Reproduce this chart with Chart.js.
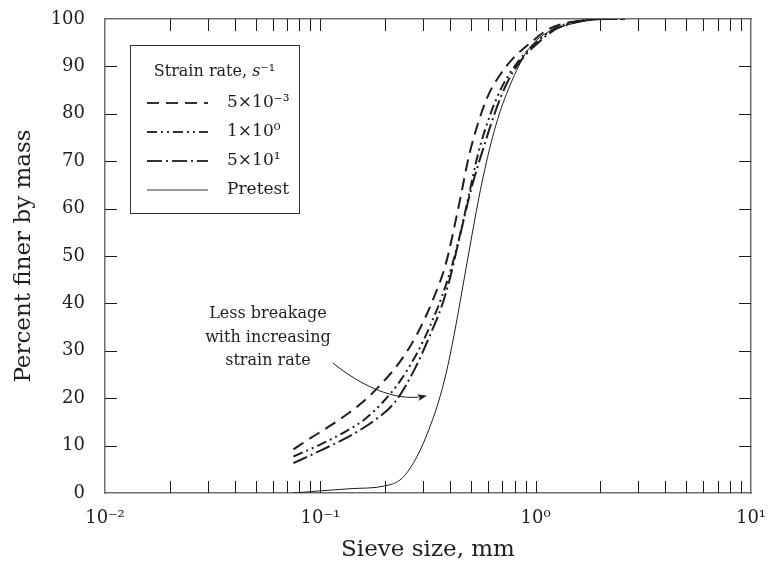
<!DOCTYPE html>
<html>
<head>
<meta charset="utf-8">
<script src="https://cdn.jsdelivr.net/npm/chart.js@4.4.1/dist/chart.umd.min.js"></script>
<style>
  html, body { margin: 0; padding: 0; background: #fff; }
</style>
</head>
<body>
<canvas id="sieveChart" width="768" height="565"></canvas>
<script>
// sieve size (mm) vs percent finer
const sizesSlow = [0.075, 0.0867, 0.1085, 0.133, 0.1612, 0.1954, 0.2344, 0.2812, 0.3336, 0.3834, 0.4359, 0.4955, 0.5943, 0.683, 0.7851, 0.9412, 1.166, 1.523, 1.99, 2.6];
const finerSlow = [9.2, 11.1, 13.9, 16.6, 19.6, 23.4, 27.7, 33.5, 40.8, 48.5, 59.8, 72.0, 83.3, 88.2, 91.7, 94.9, 98.0, 99.5, 100, 100];

const sizesMid = [0.075, 0.0975, 0.1302, 0.1612, 0.1954, 0.2344, 0.2812, 0.3231, 0.3673, 0.4088, 0.4452, 0.4851, 0.5398, 0.6138, 0.7051, 0.8193, 0.9931, 1.23, 1.607, 2.099, 2.6];
const finerMid = [7.7, 10.0, 12.9, 15.6, 19.2, 23.6, 29.5, 35.2, 41.5, 48.0, 54.5, 62.0, 71.5, 79.7, 86.1, 90.7, 94.8, 98.0, 99.6, 100, 100];

const sizesFast = [0.075, 0.1018, 0.1403, 0.1795, 0.2223, 0.2753, 0.3231, 0.3673, 0.4, 0.4359, 0.4698, 0.5064, 0.5694, 0.6474, 0.736, 0.846, 1.0146, 1.257, 1.642, 2.099, 2.6];
const finerFast = [6.3, 9.1, 12.3, 15.4, 19.2, 26.3, 33.3, 39.6, 45.3, 52.5, 58.8, 64.8, 72.5, 80.3, 86.5, 91.0, 94.8, 98.0, 99.6, 100, 100];

const sizesPretest = [0.075, 0.0997, 0.1373, 0.1996, 0.2395, 0.2812, 0.3231, 0.3595, 0.3916, 0.4266, 0.4648, 0.5064, 0.5515, 0.6138, 0.683, 0.7851, 0.9117, 1.0818, 1.398, 1.846, 2.336];
const finerPretest = [0, 0.45, 0.9, 1.5, 3.1, 7.7, 14.0, 20.3, 27.0, 35.5, 45.0, 54.5, 63.5, 73.0, 80.4, 87.5, 93.2, 96.6, 98.7, 99.8, 100];

const seriesLabels = ["5×10⁻³", "1×10⁰", "5×10¹", "Pretest"];
const decadeLabels = { "-2": "10⁻²", "-1": "10⁻¹", "0": "10⁰", "1": "10¹" };
const yTicks = [0, 10, 20, 30, 40, 50, 60, 70, 80, 90, 100];

// annotation anchor (data units) and arrow path
const noteLines = ["Less breakage", "with increasing", "strain rate"];
const noteAt = { x: 0.0571, y: 36.9 };
const arrowPath = [
  { x: 0.1145, y: 27.4 },
  { x: 0.1528, y: 22.8 },
  { x: 0.2223, y: 19.2 },
  { x: 0.3128, y: 20.5 }
];

const ink = "#1e1e1e";
const serif = "'DejaVu Serif', serif";
const dashes = [[12, 7], [10, 4, 2, 4, 2, 4], [15, 4, 2, 4], []];
const widths = [2, 2, 2, 1];

function pts(xs, ys) {
  return xs.map((x, i) => ({ x: x, y: ys[i] }));
}

function logTicks() {
  const out = [];
  for (let e = -2; e < 1; e++) {
    for (let m = 1; m < 10; m++) out.push(Number((m * Math.pow(10, e)).toPrecision(3)));
  }
  out.push(10);
  return out;
}

// keep label overhang from pushing the plot area around
function noPad(s) {
  s.paddingLeft = 0;
  s.paddingRight = 0;
  s.paddingTop = 0;
  s.paddingBottom = 0;
}

const innerTicks = {
  id: "innerTicks",
  afterDraw(chart) {
    const ctx = chart.ctx;
    const a = chart.chartArea;
    const len = 12;
    ctx.save();
    ctx.strokeStyle = ink;
    ctx.lineWidth = 1;
    ctx.beginPath();
    logTicks().forEach(v => {
      const px = Math.round(chart.scales.x.getPixelForValue(v)) + 0.5;
      if (px <= a.left + 1 || px >= a.right - 1) return;
      ctx.moveTo(px, a.bottom);
      ctx.lineTo(px, a.bottom - len);
      ctx.moveTo(px, a.top);
      ctx.lineTo(px, a.top + len);
    });
    yTicks.forEach(v => {
      const py = Math.round(chart.scales.y.getPixelForValue(v)) + 0.5;
      if (py <= a.top + 1 || py >= a.bottom - 1) return;
      ctx.moveTo(a.left, py);
      ctx.lineTo(a.left + len, py);
      ctx.moveTo(a.right, py);
      ctx.lineTo(a.right - len, py);
    });
    ctx.stroke();
    ctx.restore();
  }
};

const legendBox = {
  id: "legendBox",
  afterDraw(chart) {
    const ctx = chart.ctx;
    const a = chart.chartArea;
    const bx = a.left + 25, by = a.top + 26, bw = 169, bh = 168;
    ctx.save();
    ctx.fillStyle = "#fff";
    ctx.fillRect(bx, by, bw, bh);
    ctx.strokeStyle = "#333";
    ctx.lineWidth = 1;
    ctx.strokeRect(bx + 0.5, by + 0.5, bw, bh);

    ctx.fillStyle = ink;
    ctx.textBaseline = "middle";
    // title: "Strain rate, s⁻¹" with italic s
    const t1 = "Strain rate, ";
    ctx.font = "16px " + serif;
    const w1 = ctx.measureText(t1).width;
    ctx.font = "italic 16px " + serif;
    const w2 = ctx.measureText("s").width;
    ctx.font = "16px " + serif;
    const w3 = ctx.measureText("⁻¹").width;
    let tx = bx + bw / 2 - (w1 + w2 + w3) / 2;
    const ty = by + 27;
    ctx.fillText(t1, tx, ty);
    ctx.font = "italic 16px " + serif;
    ctx.fillText("s", tx + w1, ty);
    ctx.font = "16px " + serif;
    ctx.fillText("⁻¹", tx + w1 + w2, ty);

    seriesLabels.forEach((lab, i) => {
      const ly = by + 58 + i * 29;
      ctx.beginPath();
      ctx.setLineDash(dashes[i]);
      ctx.lineWidth = widths[i];
      ctx.moveTo(bx + 17, ly);
      ctx.lineTo(bx + 78, ly);
      ctx.stroke();
      ctx.setLineDash([]);
      ctx.font = "17px " + serif;
      ctx.fillText(lab, bx + 97, ly);
    });
    ctx.restore();
  }
};

const note = {
  id: "note",
  afterDraw(chart) {
    const ctx = chart.ctx;
    const sx = chart.scales.x, sy = chart.scales.y;
    ctx.save();
    ctx.fillStyle = ink;
    ctx.font = "16px " + serif;
    ctx.textAlign = "center";
    ctx.textBaseline = "alphabetic";
    const nx = sx.getPixelForValue(noteAt.x);
    const ny = sy.getPixelForValue(noteAt.y);
    noteLines.forEach((s, i) => ctx.fillText(s, nx, ny + i * 23.5));

    const p = arrowPath.map(q => ({ x: sx.getPixelForValue(q.x), y: sy.getPixelForValue(q.y) }));
    ctx.strokeStyle = ink;
    ctx.lineWidth = 1;
    ctx.beginPath();
    ctx.moveTo(p[0].x, p[0].y);
    ctx.bezierCurveTo(p[1].x, p[1].y, p[2].x, p[2].y, p[3].x - 4, p[3].y + 0.5);
    ctx.stroke();
    // arrow head
    const ang = Math.atan2(p[3].y - p[2].y, p[3].x - p[2].x);
    ctx.beginPath();
    ctx.moveTo(p[3].x, p[3].y);
    ctx.lineTo(p[3].x - 10 * Math.cos(ang - 0.35), p[3].y - 10 * Math.sin(ang - 0.35));
    ctx.lineTo(p[3].x - 7 * Math.cos(ang), p[3].y - 7 * Math.sin(ang));
    ctx.lineTo(p[3].x - 10 * Math.cos(ang + 0.35), p[3].y - 10 * Math.sin(ang + 0.35));
    ctx.closePath();
    ctx.fill();
    ctx.restore();
  }
};

const seriesX = [sizesSlow, sizesMid, sizesFast, sizesPretest];
const seriesY = [finerSlow, finerMid, finerFast, finerPretest];

const datasets = seriesLabels.map((lab, i) => ({
  label: lab,
  data: pts(seriesX[i], seriesY[i]),
  borderColor: ink,
  borderWidth: widths[i],
  borderDash: dashes[i],
  pointRadius: 0,
  fill: false,
  cubicInterpolationMode: "monotone"
}));

new Chart(document.getElementById("sieveChart"), {
  type: "line",
  data: { datasets: datasets },
  options: {
    responsive: false,
    devicePixelRatio: 1,
    animation: false,
    layout: { padding: 0 },
    plugins: { legend: { display: false }, tooltip: { enabled: false } },
    scales: {
      x: {
        type: "logarithmic",
        position: "bottom",
        min: 0.01,
        max: 10,
        afterBuildTicks: s => { s.ticks = logTicks().map(v => ({ value: v })); },
        afterFit: s => { s.height = 72; noPad(s); },
        grid: { display: false },
        border: { display: true, color: "#6e6e6e", width: 1.5 },
        ticks: {
          autoSkip: false,
          maxRotation: 0,
          padding: 7,
          color: ink,
          font: { family: serif, size: 18 },
          callback: v => {
            const e = Math.log10(v);
            return Math.abs(e - Math.round(e)) < 1e-6 ? decadeLabels[String(Math.round(e))] : "";
          }
        },
        title: {
          display: true,
          text: "Sieve size, mm",
          color: ink,
          font: { family: serif, size: 23 },
          padding: { top: 0, bottom: 1 }
        }
      },
      xTop: {
        type: "logarithmic",
        position: "top",
        min: 0.01,
        max: 10,
        afterFit: s => { s.height = 19; noPad(s); },
        grid: { display: false },
        border: { display: true, color: "#6e6e6e", width: 1.5 },
        ticks: { display: false }
      },
      y: {
        min: 0,
        max: 100,
        afterBuildTicks: s => { s.ticks = yTicks.map(v => ({ value: v })); },
        afterFit: s => { s.width = 105; noPad(s); },
        grid: { display: false },
        border: { display: true, color: "#6e6e6e", width: 1.5 },
        ticks: {
          padding: 12,
          color: ink,
          font: { family: serif, size: 18 }
        },
        title: {
          display: true,
          text: "Percent finer by mass",
          color: ink,
          font: { family: serif, size: 23 },
          padding: { top: 10, bottom: 0 }
        }
      },
      yRight: {
        position: "right",
        min: 0,
        max: 100,
        afterFit: s => { s.width = 17; noPad(s); },
        grid: { display: false },
        border: { display: true, color: "#6e6e6e", width: 1.5 },
        ticks: { display: false }
      }
    }
  },
  plugins: [innerTicks, legendBox, note]
});
</script>
</body>
</html>
